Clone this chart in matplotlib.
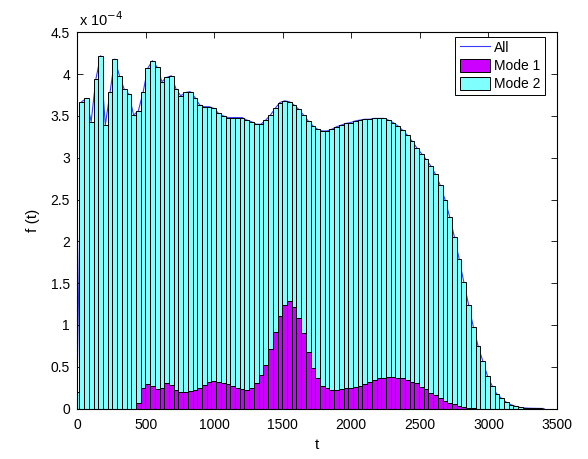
import numpy as np
import matplotlib
matplotlib.use("Agg")
import matplotlib.pyplot as plt
from matplotlib.lines import Line2D
from matplotlib.patches import Patch

plt.rcParams['font.family'] = ['Liberation Sans', 'DejaVu Sans']

# ----------------------------
# Data (values in units of 1e-4)
# ----------------------------
bin_width = 34.4

# total height of each bar (All), bins 0..99
all_vals = [
    0.20, 3.67, 3.71, 3.43, 3.94, 4.22, 3.39, 3.78, 4.18, 3.98,
    3.82, 3.76, 3.51, 3.56, 3.78, 4.07, 4.16, 4.08, 3.91, 3.96,
    3.98, 3.82, 3.74, 3.78, 3.79, 3.72, 3.63, 3.61, 3.61, 3.59,
    3.53, 3.50, 3.48, 3.48, 3.48, 3.48, 3.45, 3.43, 3.40, 3.40,
    3.45, 3.51, 3.59, 3.66, 3.68, 3.67, 3.63, 3.58, 3.51, 3.44,
    3.38, 3.34, 3.32, 3.32, 3.34, 3.37, 3.39, 3.41, 3.42, 3.44,
    3.45, 3.46, 3.46, 3.47, 3.47, 3.47, 3.45, 3.42, 3.38, 3.33,
    3.27, 3.20, 3.12, 3.05, 2.98, 2.90, 2.80, 2.67, 2.50, 2.29,
    2.05, 1.79, 1.51, 1.24, 0.98, 0.75, 0.57, 0.39, 0.27, 0.17,
    0.12, 0.075, 0.045, 0.025, 0.012, 0.006, 0.003, 0.002, 0.001, 0.0,
]

# Mode 1 part of each bar
mode1_vals = [
    0, 0, 0, 0, 0, 0, 0, 0, 0, 0,
    0, 0, 0, 0.06, 0.24, 0.29, 0.27, 0.23, 0.25, 0.30,
    0.28, 0.22, 0.20, 0.20, 0.21, 0.22, 0.24, 0.28, 0.32, 0.33,
    0.32, 0.30, 0.29, 0.27, 0.24, 0.23, 0.22, 0.25, 0.31, 0.40,
    0.52, 0.71, 0.92, 1.11, 1.24, 1.28, 1.21, 1.08, 0.90, 0.68,
    0.49, 0.36, 0.27, 0.24, 0.22, 0.22, 0.23, 0.24, 0.25, 0.26,
    0.27, 0.29, 0.32, 0.34, 0.36, 0.37, 0.38, 0.38, 0.37, 0.36,
    0.34, 0.32, 0.30, 0.26, 0.23, 0.19, 0.16, 0.12, 0.09, 0.07,
    0.05, 0.03, 0.02, 0.01, 0.005, 0, 0, 0, 0, 0,
    0, 0, 0, 0, 0, 0, 0, 0, 0, 0,
]

x_ticks = [0, 500, 1000, 1500, 2000, 2500, 3000, 3500]
y_ticks = [0, 0.5, 1, 1.5, 2, 2.5, 3, 3.5, 4, 4.5]

centers = np.arange(len(all_vals)) * bin_width
all_arr = np.array(all_vals)
mode1_arr = np.array(mode1_vals)
mode2_arr = all_arr - mode1_arr

col_all = '#3a3aff'
col_m1 = '#cc00ff'
col_m2 = '#80ffff'

# ----------------------------
# Plot
# ----------------------------
fig = plt.figure(figsize=(5.88, 4.59), dpi=100)
ax = fig.add_axes([77 / 588, 1 - 408.5 / 459, 480 / 588, 376.2 / 459])

ax.plot(centers, all_arr, color=col_all, linewidth=0.8, zorder=1)
ax.bar(centers, mode1_arr, width=bin_width, color=col_m1,
       edgecolor='black', linewidth=0.7, zorder=2)
ax.bar(centers, mode2_arr, bottom=mode1_arr, width=bin_width, color=col_m2,
       edgecolor='black', linewidth=0.7, zorder=2)

ax.set_xlim(0, 3500)
ax.set_ylim(0, 4.5)
ax.set_xticks(x_ticks)
ax.set_yticks(y_ticks)
ax.set_yticklabels(['%g' % v for v in y_ticks])
ax.tick_params(direction='in', top=True, right=True, labelsize=10, length=4, width=0.6)
ax.tick_params(axis='x', pad=7)
ax.tick_params(axis='y', pad=5)
for s in ax.spines.values():
    s.set_linewidth(0.8)

ax.set_xlabel('t', fontsize=11, labelpad=4)
ax.set_ylabel('f (t)', fontsize=11, labelpad=8)
ax.text(0.005, 1.008, r'x 10$^{-4}$', transform=ax.transAxes,
        ha='left', va='bottom', fontsize=10.5)

handles = [
    Line2D([], [], color=col_all, linewidth=0.8),
    Patch(facecolor=col_m1, edgecolor='black', linewidth=0.7),
    Patch(facecolor=col_m2, edgecolor='black', linewidth=0.7),
]
leg = ax.legend(handles, ['All', 'Mode 1', 'Mode 2'], loc='upper right',
                bbox_to_anchor=(0.975, 0.988), borderaxespad=0, fontsize=10,
                fancybox=False, framealpha=1, edgecolor='black',
                handlelength=2.2, handleheight=1.0, labelspacing=0.3,
                handletextpad=0.3, borderpad=0.3)
leg.get_frame().set_linewidth(0.7)

fig.savefig('out.png', dpi=100)
